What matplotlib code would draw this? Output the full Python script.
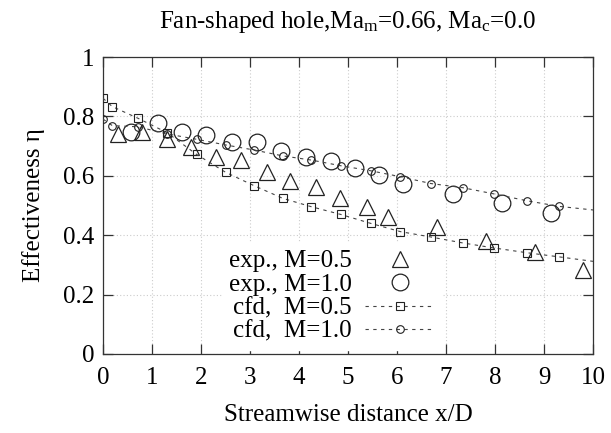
import matplotlib
matplotlib.use("Agg")
import matplotlib.pyplot as plt
import numpy as np

plt.rcParams["font.family"] = ["Liberation Serif", "DejaVu Serif"]
plt.rcParams["mathtext.fontset"] = "custom"
plt.rcParams["mathtext.rm"] = "Liberation Serif"
plt.rcParams["mathtext.it"] = "Liberation Serif:italic"

# Experimental data, M = 0.5 (triangles)
exp05_x = [0.30, 0.79, 1.30, 1.80, 2.31, 2.82, 3.34, 3.82, 4.35, 4.84, 5.38, 5.82, 6.82, 7.82, 8.82, 9.80]
exp05_y = [0.741, 0.749, 0.723, 0.696, 0.664, 0.653, 0.612, 0.583, 0.561, 0.524, 0.494, 0.462, 0.426, 0.382, 0.342, 0.283]

# Experimental data, M = 1.0 (large circles)
exp10_x = [0.57, 1.13, 1.61, 2.10, 2.63, 3.14, 3.63, 4.14, 4.66, 5.14, 5.63, 6.13, 7.14, 8.14, 9.14]
exp10_y = [0.749, 0.779, 0.749, 0.737, 0.715, 0.715, 0.685, 0.664, 0.650, 0.625, 0.603, 0.574, 0.539, 0.507, 0.474]

# CFD, M = 0.5 (last value is the curve end at x/D = 10)
cfd05_x = [0.0, 0.19, 0.71, 1.31, 1.91, 2.50, 3.08, 3.67, 4.25, 4.85, 5.46, 6.07, 6.69, 7.34, 7.98, 8.65, 9.31, 10.0]
cfd05_y = [0.861, 0.833, 0.794, 0.745, 0.672, 0.612, 0.567, 0.524, 0.496, 0.470, 0.440, 0.412, 0.394, 0.374, 0.357, 0.341, 0.327, 0.312]

# CFD, M = 1.0 (last value is the curve end at x/D = 10)
cfd10_x = [0.0, 0.19, 0.71, 1.31, 1.91, 2.50, 3.08, 3.67, 4.25, 4.85, 5.46, 6.07, 6.69, 7.34, 7.98, 8.65, 9.31, 10.0]
cfd10_y = [0.791, 0.769, 0.765, 0.741, 0.723, 0.704, 0.687, 0.667, 0.653, 0.634, 0.617, 0.597, 0.574, 0.560, 0.539, 0.516, 0.497, 0.485]

x_ticks = list(range(0, 11))
y_ticks = [0, 0.2, 0.4, 0.6, 0.8, 1.0]
y_tick_labels = ["0", "0.2", "0.4", "0.6", "0.8", "1"]

FS = 18
ink = "#222222"
dash = (0, (3, 4))

fig = plt.figure(figsize=(6.11, 4.33), dpi=100)
ax = fig.add_axes([103 / 611, 1 - 354 / 433, 490 / 611, 297 / 433])

ax.plot(exp05_x, exp05_y, linestyle="none", marker="^", markersize=12,
        markerfacecolor="none", markeredgecolor=ink, markeredgewidth=0.9,
        label="exp., M=0.5", zorder=3)
ax.plot(exp10_x, exp10_y, linestyle="none", marker="o", markersize=12,
        markerfacecolor="none", markeredgecolor=ink, markeredgewidth=0.9,
        label="exp., M=1.0", zorder=3)
n5 = len(cfd05_x)
ax.plot(cfd05_x, cfd05_y, linestyle=dash, color="#444444", linewidth=0.8,
        marker="s", markersize=5.5, markerfacecolor="none",
        markeredgecolor=ink, markeredgewidth=0.8,
        markevery=list(range(n5 - 1)), label="cfd,  M=0.5", zorder=3)
n10 = len(cfd10_x)
ax.plot(cfd10_x, cfd10_y, linestyle=dash, color="#444444", linewidth=0.8,
        marker="o", markersize=5.5, markerfacecolor="none",
        markeredgecolor=ink, markeredgewidth=0.8,
        markevery=list(range(n10 - 1)), label="cfd,  M=1.0", zorder=3)

ax.set_xlim(0, 10)
ax.set_ylim(0, 1)
ax.set_xticks(x_ticks)
ax.set_yticks(y_ticks)
ax.set_yticklabels(y_tick_labels)
ax.tick_params(direction="in", length=7, width=0.9, color="#333333",
               top=True, right=True, labelsize=FS)
ax.tick_params(axis="x", pad=9)
ax.tick_params(axis="y", pad=6)
ax.grid(True, linestyle=(0, (1, 2)), color="#cccccc", linewidth=0.8)
ax.set_axisbelow(True)
for s in ax.spines.values():
    s.set_color("#333333")
    s.set_linewidth(0.9)

ax.set_xlabel("Streamwise distance x/D", fontsize=FS, labelpad=11)
ax.set_ylabel("Effectiveness η", fontsize=FS, labelpad=13)
ax.set_title("Fan-shaped hole,Ma$_{\\mathrm{m}}$=0.66, Ma$_{\\mathrm{c}}$=0.0",
             fontsize=FS, pad=21)

leg = ax.legend(loc="center", bbox_to_anchor=(0.467, 0.194), markerfirst=False,
                fontsize=FS, frameon=True, fancybox=False, framealpha=1,
                edgecolor="white", facecolor="white", handlelength=2.8,
                handletextpad=0.5, labelspacing=0.04, borderpad=0.3)

fig.savefig("out.png", dpi=100)
